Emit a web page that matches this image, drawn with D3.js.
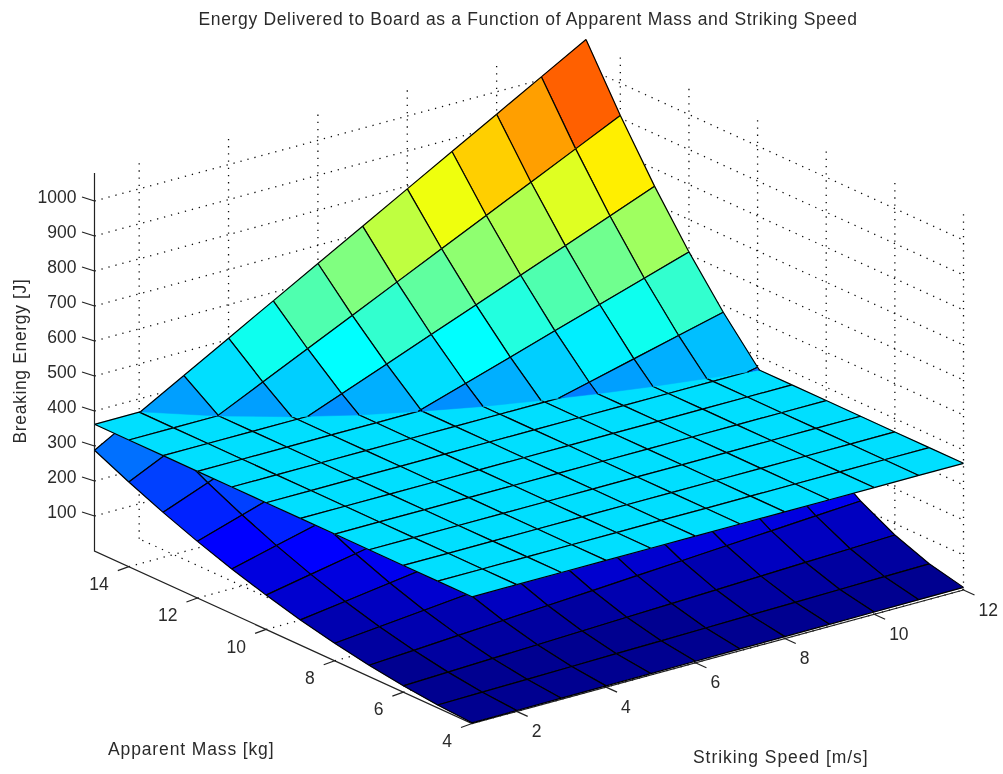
<!DOCTYPE html>
<html>
<head>
<meta charset="utf-8">
<script src="https://cdn.jsdelivr.net/npm/d3@7"></script>
<style>
  body { margin: 0; background: #fff; }
  text { font-family: "Liberation Sans", Arial, sans-serif; fill: #2a2a2a; }
</style>
</head>
<body>
<div id="chart"></div>
<script>
const massValues = [4, 5, 6, 7, 8, 9, 10, 11, 12, 13, 14, 15];
const speedValues = [1, 2, 3, 4, 5, 6, 7, 8, 9, 10, 11, 12];

// one row per apparent mass tick, one column per striking speed tick
const energy4 = [2, 2.5, 3, 3.5, 4, 4.5, 5, 5.5, 6, 6.5, 7, 7.5];
const energy5 = [8, 10, 12, 14, 16, 18, 20, 22, 24, 26, 28, 30];
const energy6 = [18, 22.5, 27, 31.5, 36, 40.5, 45, 49.5, 54, 58.5, 63, 67.5];
const energy7 = [32, 40, 48, 56, 64, 72, 80, 88, 96, 104, 112, 120];
const energy8 = [50, 62.5, 75, 87.5, 100, 112.5, 125, 137.5, 150, 162.5, 175, 187.5];
const energy9 = [72, 90, 108, 126, 144, 162, 180, 198, 216, 234, 252, 270];
const energy10 = [98, 122.5, 147, 171.5, 196, 220.5, 245, 269.5, 294, 318.5, 343, 367.5];
const energy11 = [128, 160, 192, 224, 256, 288, 320, 352, 384, 416, 448, 480];
const energy12 = [162, 202.5, 243, 283.5, 324, 364.5, 405, 445.5, 486, 526.5, 567, 607.5];
const energy13 = [200, 250, 300, 350, 400, 450, 500, 550, 600, 650, 700, 750];
const energy14 = [242, 302.5, 363, 423.5, 484, 544.5, 605, 665.5, 726, 786.5, 847, 907.5];
const energy15 = [288, 360, 432, 504, 576, 648, 720, 792, 864, 936, 1008, 1080];
const energyRows = [energy4, energy5, energy6, energy7, energy8, energy9,
    energy10, energy11, energy12, energy13, energy14, energy15];

const boardEnergy = 362; // the flat sheet

const energyTicks = [100, 200, 300, 400, 500, 600, 700, 800, 900, 1000];
const massTicks = [4, 6, 8, 10, 12, 14];
const speedTicks = [2, 4, 6, 8, 10, 12];

const titleText = "Energy Delivered to Board as a Function of Apparent Mass and Striking Speed";

const width = 1003, height = 774;

// orthographic view: each data axis gets a scale for its screen x and y share
const massX = d3.scaleLinear().domain([4, 15]).range([472, 94.5]);
const massY = d3.scaleLinear().domain([4, 15]).range([723.5, 551]);
const speedX = d3.scaleLinear().domain([1, 12]).range([0, 491.5]);
const speedY = d3.scaleLinear().domain([1, 12]).range([0, -133.5]);
const energyY = d3.scaleLinear().domain([0, 1000]).range([0, -350]);

const project = (m, v, e) => [massX(m) + speedX(v), massY(m) + speedY(v) + energyY(e)];

// MATLAB jet, 64 steps
const jetRamp = d3.scaleLinear()
    .domain([0, 0.125, 0.375, 0.625, 0.875, 1])
    .range(["rgb(0,0,128)", "rgb(0,0,255)", "rgb(0,255,255)", "rgb(255,255,0)", "rgb(255,0,0)", "rgb(128,0,0)"]);
const jet = e => {
    const level = Math.min(63, Math.floor((e - 2) / 1094 * 64));
    return jetRamp((level + 1) / 64);
};

const svg = d3.select("#chart").append("svg")
    .attr("width", width)
    .attr("height", height);

const blur = svg.append("defs").append("filter")
    .attr("id", "soft")
    .attr("x", 0).attr("y", 0).attr("width", 1).attr("height", 1)
    .attr("filterUnits", "objectBoundingBox");
blur.append("feGaussianBlur").attr("stdDeviation", 0.45);

const root = svg.append("g").attr("filter", "url(#soft)");
root.append("rect").attr("width", width).attr("height", height).attr("fill", "#fff");

const line = d3.line();

// + GRID on the two back walls and the floor
const gridLines = [];
energyTicks.forEach(e => {
    gridLines.push([project(15, 1, e), project(15, 12, e)]);
    gridLines.push([project(15, 12, e), project(4, 12, e)]);
});
speedTicks.forEach(v => {
    gridLines.push([project(15, v, 0), project(15, v, 1080)]);
    gridLines.push([project(4, v, 0), project(15, v, 0)]);
});
massTicks.forEach(m => {
    gridLines.push([project(m, 12, 0), project(m, 12, 1080)]);
    gridLines.push([project(m, 1, 0), project(m, 12, 0)]);
});
root.append("g").selectAll("path")
    .data(gridLines)
    .join("path")
    .attr("d", line)
    .attr("fill", "none")
    .attr("stroke", "#111")
    .attr("stroke-width", 1.3)
    .attr("stroke-dasharray", "1.3 5.9");

// + AXES
const axes = root.append("g").attr("stroke", "#222").attr("stroke-width", 1.2).attr("fill", "none");
axes.append("path").attr("d", line([project(15, 1, 1080), project(15, 1, 0), project(4, 1, 0), project(4, 12, 0)]));
axes.selectAll("path.z").data(energyTicks).join("path").attr("class", "z")
    .attr("d", e => { const p = project(15, 1, e); return line([p, [p[0] - 12.5, p[1] - 4]]); });
axes.selectAll("path.m").data(massTicks).join("path").attr("class", "m")
    .attr("d", m => { const p = project(m, 1, 0); return line([p, [p[0] - 11, p[1] + 4]]); });
axes.selectAll("path.v").data(speedTicks).join("path").attr("class", "v")
    .attr("d", v => { const p = project(4, v, 0); return line([p, [p[0] + 11, p[1] + 5]]); });

const labels = root.append("g").attr("font-size", 17.5);
labels.selectAll("text.z").data(energyTicks).join("text").attr("class", "z")
    .attr("x", e => project(15, 1, e)[0] - 18)
    .attr("y", e => project(15, 1, e)[1] - 4)
    .attr("dy", "0.35em")
    .attr("text-anchor", "end")
    .text(d => d);
labels.selectAll("text.m").data(massTicks).join("text").attr("class", "m")
    .attr("x", m => project(m, 1, 0)[0] - 20)
    .attr("y", m => project(m, 1, 0)[1] + 17)
    .attr("dy", "0.35em")
    .attr("text-anchor", "end")
    .text(d => d);
labels.selectAll("text.v").data(speedTicks).join("text").attr("class", "v")
    .attr("x", v => project(4, v, 0)[0] + 15)
    .attr("y", v => project(4, v, 0)[1] + 19.5)
    .attr("dy", "0.35em")
    .text(d => d);

labels.append("text").attr("x", 528).attr("y", 19).attr("dy", "0.35em")
    .attr("letter-spacing", 0.67)
    .attr("text-anchor", "middle").text(titleText);
labels.append("text").attr("x", 108).attr("y", 749).attr("dy", "0.35em")
    .attr("letter-spacing", 0.87).text("Apparent Mass [kg]");
labels.append("text").attr("x", 693).attr("y", 757).attr("dy", "0.35em")
    .attr("letter-spacing", 0.95).text("Striking Speed [m/s]");
labels.append("text").attr("transform", "translate(20,361) rotate(-90)").attr("dy", "0.35em")
    .attr("letter-spacing", 0.65)
    .attr("text-anchor", "middle").text("Breaking Energy [J]");

// split one cell where it crosses the sheet, keeping the part on one side
function clipCell(corners, above) {
    const inside = c => above ? c.e >= boardEnergy : c.e < boardEnergy;
    const cross = (a, b) => {
        const t = (boardEnergy - a.e) / (b.e - a.e);
        return { m: a.m + (b.m - a.m) * t, v: a.v + (b.v - a.v) * t, e: boardEnergy };
    };
    const poly = [], edges = [];
    corners.forEach((a, i) => {
        const b = corners[(i + 1) % corners.length];
        if (inside(a) && inside(b)) {
            poly.push(a);
            edges.push([a, b]);
        } else if (inside(a)) {
            const c = cross(a, b);
            poly.push(a, c);
            edges.push([a, c]);
        } else if (inside(b)) {
            const c = cross(a, b);
            poly.push(c);
            edges.push([c, b]);
        }
    });
    return { poly, edges };
}

// cells far to near, each coloured from its low corner
const energyCells = [];
const sheetCells = [];
for (let i = massValues.length - 2; i >= 0; i--) {
    for (let j = speedValues.length - 2; j >= 0; j--) {
        const c = (a, b) => ({ m: massValues[a], v: speedValues[b], e: energyRows[a][b] });
        const s = (a, b) => ({ m: massValues[a], v: speedValues[b], e: boardEnergy });
        energyCells.push({
            color: jet(energyRows[i][j]),
            corners: [c(i, j), c(i + 1, j), c(i + 1, j + 1), c(i, j + 1)]
        });
        sheetCells.push({
            color: jet(boardEnergy),
            corners: [s(i, j), s(i + 1, j), s(i + 1, j + 1), s(i, j + 1)]
        });
    }
}

const toXY = c => project(c.m, c.v, c.e);

function drawCells(parent, parts) {
    const g = parent.append("g");
    parts.filter(d => d.poly.length > 2).forEach(d => {
        g.append("path")
            .attr("d", line(d.poly.map(toXY)) + "Z")
            .attr("fill", d.color)
            .attr("stroke", d.color)
            .attr("stroke-width", 0.5);
        g.append("path")
            .attr("d", d.edges.map(e => line(e.map(toXY))).join(""))
            .attr("fill", "none")
            .attr("stroke", "#000")
            .attr("stroke-width", 1.2);
    });
}

// below the sheet, then the sheet, then above it
const lowerParts = energyCells.map(d => ({ color: d.color, ...clipCell(d.corners, false) }));
const upperParts = energyCells.map(d => ({ color: d.color, ...clipCell(d.corners, true) }));
const sheetParts = sheetCells.map(d => ({ color: d.color, poly: d.corners, edges: d.corners.map((a, i) => [a, d.corners[(i + 1) % 4]]) }));

drawCells(root, lowerParts);
drawCells(root, sheetParts);
drawCells(root, upperParts);
</script>
</body>
</html>
